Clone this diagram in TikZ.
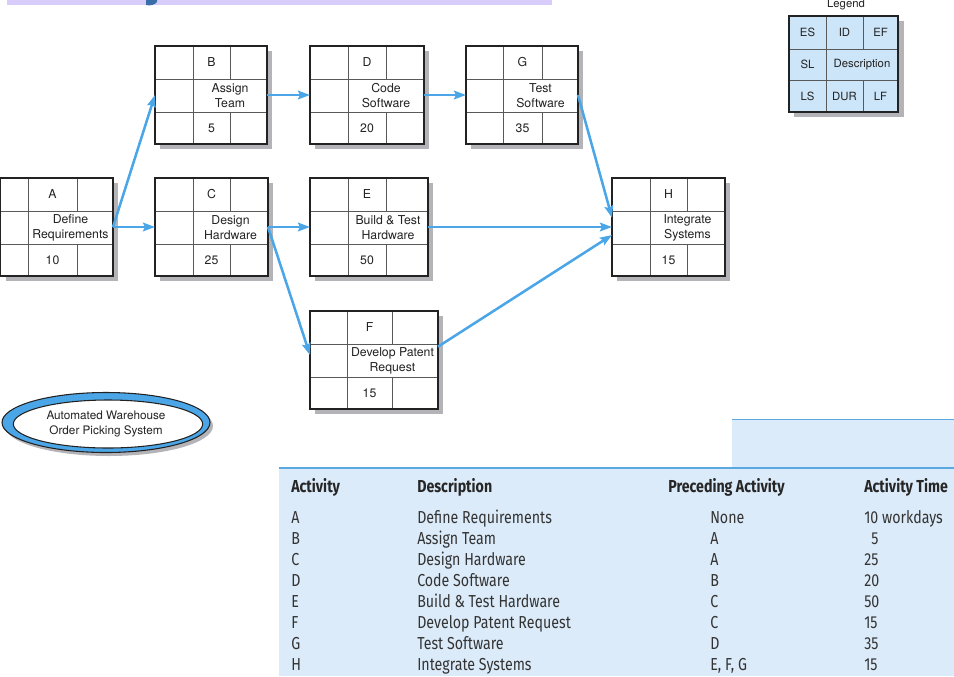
\documentclass[tikz,border=0pt]{standalone}
\usepackage{fontspec}
\setmainfont{TeX Gyre Heros}
\newfontfamily\tabfont[FakeStretch=0.82]{Fira Sans}
\usetikzlibrary{calc,arrows.meta,shapes.geometric}
\definecolor{arrowblue}{HTML}{4BA6E8}
\definecolor{shadowgray}{HTML}{B4B4B8}
\definecolor{legendblue}{HTML}{CDE5F8}
\definecolor{tableblue}{HTML}{DCEBF9}
\definecolor{tableline}{HTML}{5AA8E2}
\definecolor{barpurple}{HTML}{D8CCFA}
\definecolor{titleblue}{HTML}{3A6EA8}
\definecolor{inktext}{HTML}{222222}
\definecolor{tabtext}{HTML}{333333}
\tikzset{
  boxframe/.style={draw=inktext, line width=1.1pt, fill=white, inner sep=0pt, outer sep=0pt},
  gridline/.style={draw=black!65, line width=0.6pt},
  boxtext/.style={inner sep=0pt, text=inktext, font=\fontsize{9.2}{11.25}\selectfont, align=center},
  flow/.style={draw=arrowblue, line width=1.9pt, -{Stealth[length=9pt,width=6.5pt,inset=1.5pt]}},
  tabcell/.style={anchor=base west, inner sep=0pt, text=tabtext, font=\tabfont\fontsize{13}{15}\selectfont},
  tabhead/.style={tabcell, font=\tabfont\bfseries\fontsize{13}{15}\selectfont, text=black!85},
}
% name, left, top, right, col1, col2, id, desc, dur
\newcommand\actbox[9]{%
  \fill[shadowgray] ({#2+5},{#3+5}) rectangle ({#4+5},{#3+103});
  \node[boxframe, minimum width={(#4-#2)*0.75pt}, minimum height=73.5pt] (#1) at ({(#2+#4)/2},{#3+49}) {};
  \draw[gridline] (#5,#3) -- (#5,{#3+98});
  \draw[gridline] (#2,{#3+33}) -- (#4,{#3+33});
  \draw[gridline] (#2,{#3+66}) -- (#4,{#3+66});
  \draw[gridline] (#6,#3) -- (#6,{#3+33});
  \draw[gridline] (#6,{#3+66}) -- (#6,{#3+98});
  \draw[draw=inktext, line width=1.1pt] (#1.north west) rectangle (#1.south east);
  \node[boxtext] (#1-id) at ({(#5+#6)/2},{#3+16.5}) {#7};
  \node[boxtext] (#1-desc) at ({(#5+#4)/2},{#3+49.5}) {#8};
  \node[boxtext] (#1-dur) at ({(#5+#6)/2},{#3+82}) {#9};
}
\begin{document}
\begin{tikzpicture}[x=0.75pt,y=-0.75pt]
\useasboundingbox (0,0) rectangle (954,676);
% top bar
\fill[barpurple] (7,0) rectangle (552,5);
\fill[titleblue] (146,0) -- (157,0) -- (157,2) .. controls (155,5) and (150,6) .. (146,5) -- cycle;

% activity boxes
\actbox{A}{0.6}{178}{113}{28}{77}{A}{Define\\Requirements}{10}
\actbox{B}{155}{46}{267}{193}{230}{B}{Assign\\Team}{5}
\actbox{C}{155}{178}{268}{193}{230}{C}{Design\\Hardware}{25}
\actbox{D}{310}{46}{424}{348}{386}{D}{Code\\Software}{20}
\actbox{E}{310}{178}{428}{348}{386}{E}{Build \& Test\\Hardware}{50}
\actbox{F}{310}{311}{438}{347}{392}{F}{Develop Patent\\Request}{15}
\actbox{G}{466}{46}{578}{503}{542}{G}{Test\\Software}{35}
\actbox{H}{612}{178}{725}{650}{687}{H}{Integrate\\Systems}{15}

% connectors
\draw[flow] (A.east) -- (B.west);
\draw[flow] (A.east) -- (C.west);
\draw[flow] (B.east) -- (D.west);
\draw[flow] (D.east) -- (G.west);
\draw[flow] (C.east) -- (E.west);
\draw[flow] (C.east) -- ([yshift=3.75pt]F.west);
\draw[flow] (E.east) -- (H.west);
\draw[flow] (G.east) -- ([yshift=7pt]H.west);
\draw[flow] ([yshift=10pt]F.east) -- ([yshift=-6pt]H.west);

% legend
\node[boxtext, font=\fontsize{8.5}{10}\selectfont] (legendtitle) at (846,5) {Legend};
\fill[shadowgray] (794,21) rectangle (904,117);
\node[boxframe, fill=legendblue, minimum width=81.75pt, minimum height=72pt] (legend) at (843.5,64) {};
\draw[gridline] (826,16) -- (826,112);
\draw[gridline] (789,49) -- (898,49);
\draw[gridline] (789,80) -- (898,80);
\draw[gridline] (863,16) -- (863,49);
\draw[gridline] (863,80) -- (863,112);
\draw[draw=inktext, line width=1.1pt] (legend.north west) rectangle (legend.south east);
\begin{scope}[every node/.style={boxtext, font=\fontsize{8.5}{10}\selectfont}]
\node (lg-es) at (807.5,32.5) {ES};
\node (lg-id) at (844.5,32.5) {ID};
\node (lg-ef) at (880.5,32.5) {EF};
\node (lg-sl) at (807.5,64.5) {SL};
\node (lg-desc) at (862,64.5) {Description};
\node (lg-ls) at (807.5,96) {LS};
\node (lg-dur) at (844.5,96) {DUR};
\node (lg-lf) at (880.5,96) {LF};
\end{scope}

% project ellipse
\fill[shadowgray] (109,426) ellipse [x radius=78pt, y radius=22.5pt];
\filldraw[fill=arrowblue, draw=inktext, line width=0.8pt] (106,422.5) ellipse [x radius=78pt, y radius=22.5pt];
\filldraw[fill=white, draw=inktext, line width=0.8pt] (108,424) ellipse [x radius=71pt, y radius=18pt];
\node[boxtext, font=\fontsize{8.8}{11.25}\selectfont] (sys) at (106,424) {Automated Warehouse\\Order Picking System};

% table background
\fill[tableblue] (732,419) rectangle (954,467);
\fill[tableblue] (279,467) rectangle (954,676);
\draw[tableline, line width=1.2pt] (732,419.5) -- (954,419.5);
\draw[tableline, line width=1.5pt] (279,467.5) -- (954,467.5);

% table text (y = baseline)
\node[tabhead] (h1) at (291,492) {Activity};
\node[tabhead] (h2) at (417,492) {Description};
\node[tabhead] (h3) at (668,492) {Preceding Activity};
\node[tabhead] (h4) at (864,492) {Activity Time};

\node[tabcell] (a1) at (291,523) {A};
\node[tabcell] (a2) at (291,544) {B};
\node[tabcell] (a3) at (291,565) {C};
\node[tabcell] (a4) at (291,586) {D};
\node[tabcell] (a5) at (291,607) {E};
\node[tabcell] (a6) at (291,628) {F};
\node[tabcell] (a7) at (291,649) {G};
\node[tabcell] (a8) at (291,670) {H};

\node[tabcell] (d1) at (417,523) {Define Requirements};
\node[tabcell] (d2) at (417,544) {Assign Team};
\node[tabcell] (d3) at (417,565) {Design Hardware};
\node[tabcell] (d4) at (417,586) {Code Software};
\node[tabcell] (d5) at (417,607) {Build \& Test Hardware};
\node[tabcell] (d6) at (417,628) {Develop Patent Request};
\node[tabcell] (d7) at (417,649) {Test Software};
\node[tabcell] (d8) at (417,670) {Integrate Systems};

\node[tabcell] (p1) at (710,523) {None};
\node[tabcell] (p2) at (710,544) {A};
\node[tabcell] (p3) at (710,565) {A};
\node[tabcell] (p4) at (710,586) {B};
\node[tabcell] (p5) at (710,607) {C};
\node[tabcell] (p6) at (710,628) {C};
\node[tabcell] (p7) at (710,649) {D};
\node[tabcell] (p8) at (710,670) {E, F, G};

\node[tabcell] (t1) at (864,523) {10 workdays};
\node[tabcell] (t2) at (871,544) {5};
\node[tabcell] (t3) at (864,565) {25};
\node[tabcell] (t4) at (864,586) {20};
\node[tabcell] (t5) at (864,607) {50};
\node[tabcell] (t6) at (864,628) {15};
\node[tabcell] (t7) at (864,649) {35};
\node[tabcell] (t8) at (864,670) {15};
\end{tikzpicture}
\end{document}
